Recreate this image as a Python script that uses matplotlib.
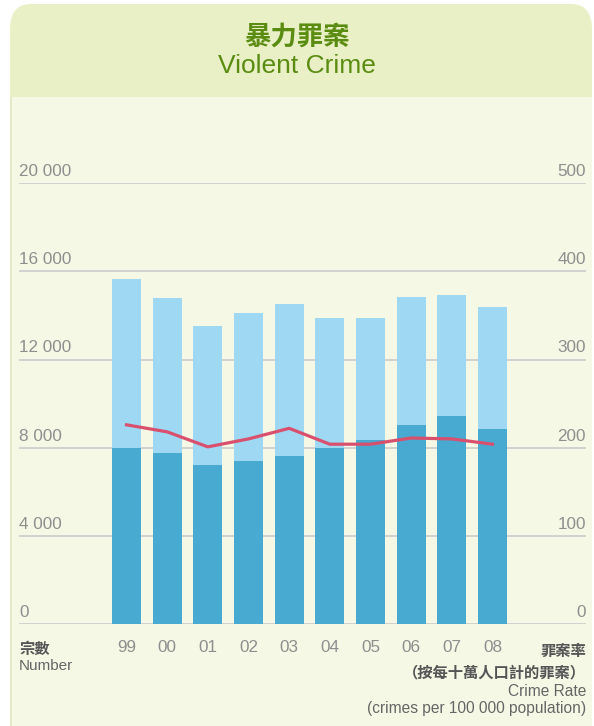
import matplotlib
matplotlib.use("Agg")
import matplotlib.pyplot as plt
from matplotlib.patches import FancyBboxPatch, Rectangle
import matplotlib.transforms as mtransforms

years = ["99", "00", "01", "02", "03", "04", "05", "06", "07", "08"]
total_cases = [15650, 14790, 13520, 14100, 14510, 13880, 13880, 14830, 14920, 14380]
lower_cases = [7980, 7760, 7210, 7390, 7620, 7980, 8350, 9030, 9430, 8840]
crime_rate = [226, 218, 201, 210, 222, 204, 204, 211, 210, 204]
left_ticks = [0, 4000, 8000, 12000, 16000, 20000]
left_tick_labels = ["0", "4 000", "8 000", "12 000", "16 000", "20 000"]
right_ticks = [0, 100, 200, 300, 400, 500]
right_tick_labels = ["0", "100", "200", "300", "400", "500"]

W, H = 594, 726
fig = plt.figure(figsize=(W / 100, H / 100), dpi=100)
fig.patch.set_facecolor("white")

LATIN = ["Liberation Sans", "DejaVu Sans"]
CJK = ["Noto Sans CJK TC", "DejaVu Sans"]

def fx(px):
    return px / W

def fy(py):
    return 1 - py / H

# panel background
panel = FancyBboxPatch((fx(10), fy(746)), fx(592) - fx(10), fy(4) - fy(746),
                       boxstyle="round,pad=0,rounding_size=0.035",
                       transform=fig.transFigure, facecolor="#EAF0C6",
                       edgecolor="none", zorder=0)
fig.patches.append(panel)
body = Rectangle((fx(10), 0), fx(592) - fx(10), fy(97), transform=fig.transFigure,
                 facecolor="#F5F8E5", edgecolor="none", zorder=1)
fig.patches.append(body)
fig.patches.append(Rectangle((fx(10), 0), fx(2), fy(97), transform=fig.transFigure,
                             facecolor="#E4EBC4", edgecolor="none", zorder=2))

fig.text(0.5, fy(37), "暴力罪案", family=CJK, fontweight="bold", fontsize=19,
         color="#5B8C12", ha="center", va="center")
fig.text(0.5, fy(66), "Violent Crime", family=LATIN, fontsize=19,
         color="#5B8C12", ha="center", va="center")

ax_left, ax_right = 19, 586
ax_top, ax_bot = 183.3, 624
ax = fig.add_axes([fx(ax_left), fy(ax_bot), fx(ax_right) - fx(ax_left), fy(ax_top) - fy(ax_bot)])
ax.set_facecolor("none")
ax.set_zorder(3)
x = list(range(len(years)))
ax.set_xlim(-2.643, 11.299)
ax.set_ylim(0, 20000)
for t in left_ticks:
    ax.axhline(t, color="#CFCFCF", lw=1.3, zorder=1)
ax.bar(x, total_cases, width=0.71, color="#9FD8F3", zorder=2)
ax.bar(x, lower_cases, width=0.71, color="#48A9D1", zorder=3)

ax2 = ax.twinx()
ax2.set_ylim(0, 500)
ax2.plot(x, crime_rate, color="#D9506F", lw=2.3, zorder=5, solid_joinstyle="round")

for a in (ax, ax2):
    for s in a.spines.values():
        s.set_visible(False)
    a.set_xticks([])
    a.set_yticks([])

trans_l = mtransforms.blended_transform_factory(ax.transAxes, ax.transData)
for t, lab in zip(left_ticks, left_tick_labels):
    ax.text(0, t + 190, lab, transform=trans_l, ha="left", va="bottom",
            family=LATIN, fontsize=12.3, color="#8E8E8E")
trans_r = mtransforms.blended_transform_factory(ax2.transAxes, ax2.transData)
for t, lab in zip(right_ticks, right_tick_labels):
    ax2.text(1, t + 4.75, lab, transform=trans_r, ha="right", va="bottom",
             family=LATIN, fontsize=12.3, color="#8E8E8E")

trans_x = mtransforms.blended_transform_factory(ax.transData, fig.transFigure)
for xi, lab in zip(x, years):
    ax.text(xi, fy(648), lab, transform=trans_x, ha="center", va="center",
            family=LATIN, fontsize=12.3, color="#8E8E8E")

fig.text(fx(19), fy(649), "宗數", family=CJK, fontweight="bold", fontsize=11,
         color="#555555", ha="left", va="center")
fig.text(fx(19), fy(666), "Number", family=LATIN, fontsize=11,
         color="#666666", ha="left", va="center")
fig.text(fx(586), fy(651), "罪案率", family=CJK, fontweight="bold", fontsize=11,
         color="#555555", ha="right", va="center")
fig.text(fx(586), fy(672), "（按每十萬人口計的罪案）", family=CJK, fontweight="bold",
         fontsize=11, color="#555555", ha="right", va="center")
fig.text(fx(586), fy(691), "Crime Rate", family=LATIN, fontsize=11.2,
         color="#666666", ha="right", va="center")
fig.text(fx(586), fy(709), "(crimes per 100 000 population)", family=LATIN,
         fontsize=11.2, color="#666666", ha="right", va="center")

fig.savefig("out.png", dpi=100)
